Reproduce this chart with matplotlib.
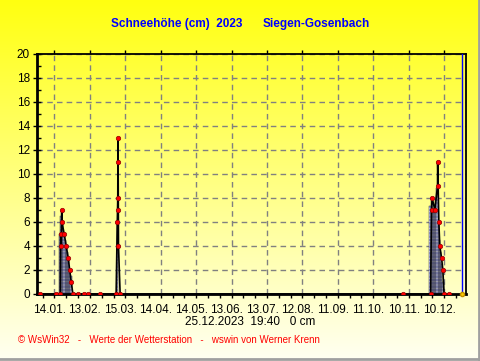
import numpy as np
import matplotlib.pyplot as plt
from matplotlib.colors import LinearSegmentedColormap
from matplotlib.transforms import ScaledTranslation

plt.rcParams['font.family'] = ['Liberation Sans', 'DejaVu Sans']
plt.rcParams['hatch.linewidth'] = 0.6

# Messwerte (Tag im Jahr 2023, Schneehoehe in cm)
mess_tage = [0.9, 14.5, 17.9, 18.3, 18.7, 19.3, 19.3, 21.2, 22.9, 24.6, 25.9, 27.2, 28.6,
             33.3, 38.1, 41.8, 51.7,
             65.2, 66.2, 66.4, 66.6, 66.7, 66.8, 67.2, 68.6,
             307.8, 331.5, 332.3, 332.8, 335.1, 337.4, 337.5, 338.5, 339.3, 340.8, 341.9,
             342.9, 347.2]
mess_cm = [0, 0, 0, 5, 4, 7, 6, 5, 4, 3, 2, 1, 0,
           0, 0, 0, 0,
           0, 6, 7, 8, 11, 13, 4, 0,
           0, 0, 7, 8, 7, 9, 11, 6, 4, 3, 2,
           0, 0]

# Tageswerte (Balken)
balken_tage = [17, 18, 19, 20, 21, 22, 23, 24, 25, 26, 27,
               66.5,
               331, 332, 333, 334, 335, 336, 337, 338, 339, 340, 341, 342]
balken_cm = [5, 6.5, 7, 6, 5, 4.5, 4, 3.5, 3, 2, 1.5,
             6,
             7.3, 8, 7.5, 7, 7, 8, 8.8, 6, 4.5, 3.5, 2.5, 1]

label_tage = [13, 43, 73, 103, 133, 163, 193, 223, 253, 283, 313, 343]
label_text = ['14.01.', '13.02.', '15.03.', '14.04.', '14.05.', '13.06.',
              '13.07.', '12.08.', '11.09.', '11.10.', '10.11.', '10.12.']
heute = 358.5

fig = plt.figure(figsize=(4.81, 3.61), dpi=100)

# Hintergrund mit Verlauf
bg = fig.add_axes([0, 0, 1, 1], zorder=-10)
verlauf = np.linspace(0, 1, 256).reshape(-1, 1)
cmap = LinearSegmentedColormap.from_list('gelb', ['#ffff10', '#fffff2'])
bg.imshow(verlauf, aspect='auto', cmap=cmap, extent=[0, 1, 0, 1], origin='upper')
bg.set_xlim(0, 1)
bg.set_ylim(0, 1)
bg.axis('off')
bg.plot([0.9965, 0.9965], [0, 1], color='#a0a0a0', lw=2)
bg.plot([0, 1], [0.006, 0.006], color='#a0a0a0', lw=2)

ax = fig.add_axes([37 / 481, 67 / 361, 429 / 481, 240.5 / 361])
ax.patch.set_alpha(0)

ax.bar(balken_tage, balken_cm, width=1.0, color='#a4a8e6', edgecolor='white', lw=0,
       hatch='-----', zorder=2)
ax.bar(balken_tage, balken_cm, width=1.0, fill=False, edgecolor='#303040', lw=0.35, zorder=2)
ax.plot(mess_tage, mess_cm, color='black', lw=1.2, zorder=3)
ax.plot(mess_tage, mess_cm, 'o', ms=3.2, mfc='#ff0000', mec='#900000', mew=0.5, zorder=4)
ax.axvline(heute, color='#0000ff', lw=1, zorder=3)
ax.plot([heute - 0.6], [0], 'o', ms=3, mfc='#ffcc00', mec='#c09000', zorder=5, clip_on=False)

ax.set_xlim(-1.8, 361.5)
ax.set_ylim(0, 20)
ax.set_yticks(range(0, 21, 2))
ax.set_yticks(range(0, 21, 1), minor=True)
ax.set_xticks(label_tage, label_text)
ax.set_xticks(np.arange(3, 361, 10), minor=True)
ax.grid(True, which='major', color='#808080', ls=(0, (4, 3)), lw=1, zorder=1)

ax.tick_params(axis='y', which='major', direction='inout', length=6, width=1, labelsize=8.5, pad=2)
ax.tick_params(axis='y', which='minor', direction='in', length=3, width=1)
ax.tick_params(axis='x', which='major', direction='out', length=3, width=1, labelsize=8.5, pad=4,
               top=True)
ax.tick_params(axis='x', which='minor', direction='out', length=3, width=1)
for lbl in ax.get_xticklabels():
    lbl.set_transform(lbl.get_transform() + ScaledTranslation(-0.05, 0, fig.dpi_scale_trans))

for s in ['left', 'bottom']:
    ax.spines[s].set_linewidth(2)
for s in ['top', 'right']:
    ax.spines[s].set_linewidth(1.3)

fig.text(242 / 481, 1 - 24 / 361, 'Schneehöhe (cm)  2023', color='#0000ff', fontsize=8.5,
         fontweight='bold', ha='right', va='center')
fig.text(263 / 481, 1 - 24 / 361, 'Siegen-Gosenbach', color='#0000ff', fontsize=8.5,
         fontweight='bold', ha='left', va='center')
fig.text(250 / 481, 1 - 322 / 361, '25.12.2023  19:40   0 cm', color='black', fontsize=8.5,
         ha='center', va='center')
fig.text(18 / 481, 1 - 340 / 361, '© WsWin32   -   Werte der Wetterstation   -   wswin von Werner Krenn',
         color='#ff0000', fontsize=7, ha='left', va='center')

plt.savefig('out.png', dpi=100)
